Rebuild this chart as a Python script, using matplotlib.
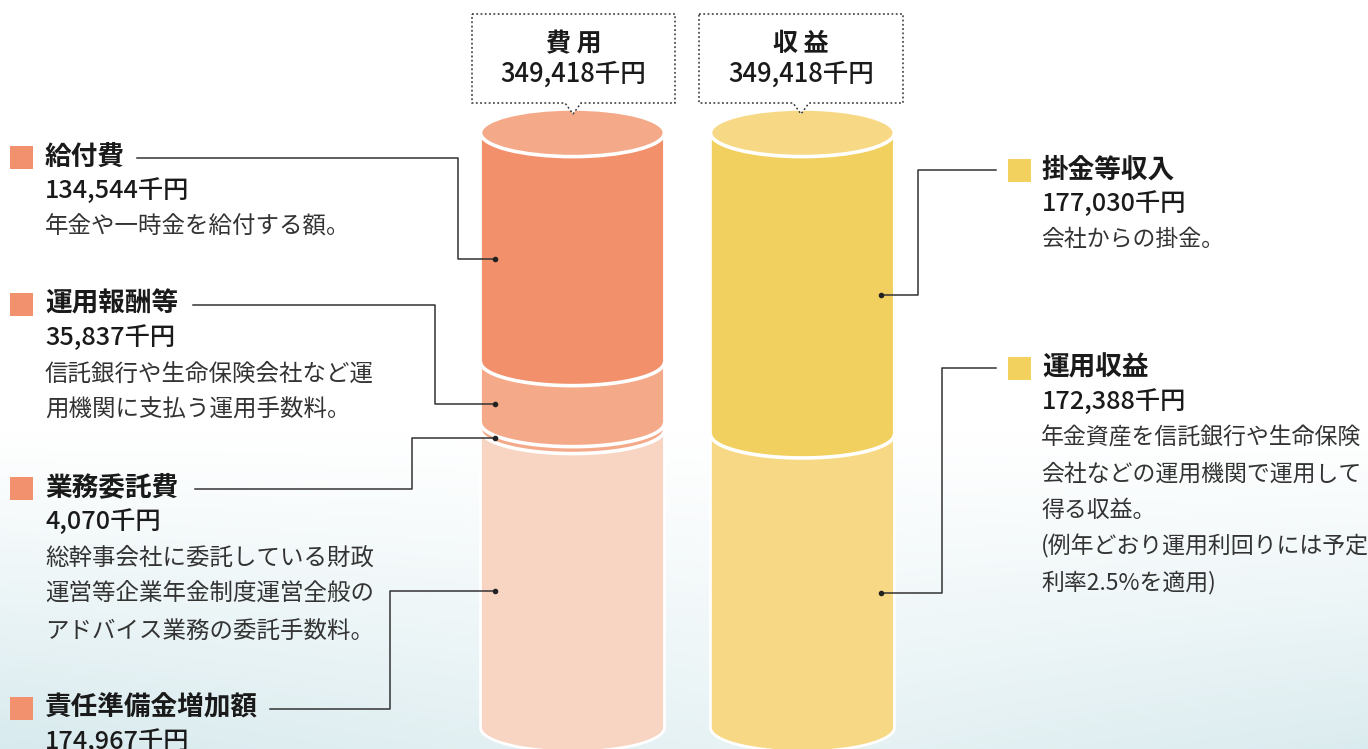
import numpy as np
import matplotlib
matplotlib.use('Agg')
import matplotlib.pyplot as plt
from matplotlib.patches import Polygon, Ellipse

plt.rcParams['font.family'] = ['Noto Sans CJK JP', 'DejaVu Sans']

# ---------------- data ----------------
cost_title = '費 用'
income_title = '収 益'
cost_total = 349418
income_total = 349418

cost_labels = ['給付費', '運用報酬等', '業務委託費', '責任準備金増加額']
cost_values = [134544, 35837, 4070, 174967]
cost_desc = [
    ['年金や一時金を給付する額。'],
    ['信託銀行や生命保険会社など運', '用機関に支払う運用手数料。'],
    ['総幹事会社に委託している財政', '運営等企業年金制度運営全般の', 'アドバイス業務の委託手数料。'],
    [],
]

income_labels = ['掛金等収入', '運用収益']
income_values = [177030, 172388]
income_desc = [
    ['会社からの掛金。'],
    ['年金資産を信託銀行や生命保険', '会社などの運用機関で運用して', '得る収益。',
     '(例年どおり運用利回りには予定', '利率2.5%を適用)'],
]

# ---------------- style ----------------
cost_colors = ['#F1906B', '#F4A988', '#F4A988', '#F8D4C2']
cost_top = '#F4A988'
income_colors = ['#F2D05F', '#F7D985']
income_top = '#F7D985'
cost_key = '#F2916D'
income_key = '#F3D15F'
TXT = '#1a1a1a'
DESC = '#333333'

W, H = 1368, 749
fig = plt.figure(figsize=(W / 100, H / 100), dpi=100)

# background gradient
ax_bg = fig.add_axes([0, 0, 1, 1], zorder=0)
ax_bg.axis('off')
yy = np.linspace(0, 1, H)[:, None]
xx = np.linspace(0, 1, W)[None, :]
t = np.clip((yy * H - 430) / 330, 0, 1) ** 1.1
side = 0.6 + 0.4 * np.abs(xx - 0.55) / 0.55
t = t * side
bottom = np.array([0.84, 0.915, 0.93])
img = 1 - (t[..., None]) * (1 - bottom)
ax_bg.imshow(img, extent=[0, 1, 0, 1], aspect='auto', origin='upper')
ax_bg.set_xlim(0, 1)
ax_bg.set_ylim(0, 1)

# cylinder axes (data units: thousand yen on y, category on x)
ax = fig.add_axes([0, 0, 1, 1], zorder=1)
ax.patch.set_visible(False)
ax.axis('off')
ax.set_xlim(-2.49, 3.46)
ax.set_ylim(362000, -78000)

# layout axes (pixels)
lay = fig.add_axes([0, 0, 1, 1], zorder=2)
lay.patch.set_visible(False)
lay.axis('off')
lay.set_xlim(0, W)
lay.set_ylim(H, 0)

BAR_W = 0.8
EH = 28000  # full ellipse height in value units


def arc(xc, y, start, end, n=80):
    th = np.linspace(start, end, n)
    return np.column_stack([xc + BAR_W / 2 * np.cos(th), y + EH / 2 * np.sin(th)])


def draw_cylinder(xc, values, colors, top_color):
    cum = np.concatenate([[0], np.cumsum(values)])
    for i in reversed(range(len(values))):
        top, bot = cum[i], cum[i + 1]
        pts = np.vstack([[[xc - BAR_W / 2, top]], arc(xc, bot, np.pi, 0), [[xc + BAR_W / 2, top]]])
        ax.add_patch(Polygon(pts, closed=True, fc=colors[i], ec='none', zorder=2 + (len(values) - i)))
        if i < len(values) - 1:
            a = arc(xc, bot, np.pi, 0)
            ax.plot(a[:, 0], a[:, 1], color='white', lw=2.6, zorder=2 + (len(values) - i) + 0.5,
                    solid_capstyle='butt')
    # silhouette outline
    a = arc(xc, cum[-1], np.pi, 0)
    out = np.vstack([[[xc - BAR_W / 2, 0]], a, [[xc + BAR_W / 2, 0]]])
    ax.plot(out[:, 0], out[:, 1], color='white', lw=2, zorder=20)
    ax.add_patch(Ellipse((xc, 0), BAR_W, EH, fc=top_color, ec='white', lw=2.6, zorder=21))
    return cum


cost_cum = draw_cylinder(0, cost_values, cost_colors, cost_top)
inc_cum = draw_cylinder(1, income_values, income_colors, income_top)


def to_layout(x, y):
    d = ax.transData.transform((x, y))
    return lay.transData.inverted().transform(d)


# ---------------- top callout boxes ----------------
def callout(x0, x1, xt, title, total):
    y0, y1, tip = 14, 103, 114
    pts = [(x0, y0), (x1, y0), (x1, y1), (xt + 8, y1), (xt, tip), (xt - 8, y1), (x0, y1)]
    lay.add_patch(Polygon(pts, closed=True, fc='white', ec='#333333', lw=1.1, ls=(0, (1.2, 1.6)), zorder=3))
    xc = (x0 + x1) / 2
    lay.text(xc, 44, title, ha='center', va='center', fontsize=18, fontweight='bold', color=TXT, zorder=4)
    lay.text(xc, 74, f'{total:,}千円', ha='center', va='center', fontsize=18.4, fontweight='medium',
             color=TXT, zorder=4)


callout(472, 675, 573, cost_title, cost_total)
callout(699, 903, 801, income_title, income_total)

TITLE_FS = 19.2
VALUE_FS = 18.2
DESC_FS = 16.9
DESC_FS_R = 16.5

# ---------------- left labels ----------------
left_title_y = [157, 304, 488, 708]
left_line_start = [137, 193, 195, 270]
left_elbow_x = [458, 435, 412, 390]
for i, lab in enumerate(cost_labels):
    ty = left_title_y[i]
    lay.add_patch(plt.Rectangle((10, ty - 11.5), 23, 23, fc=cost_key, ec='none', zorder=3))
    lay.text(45, ty, lab, ha='left', va='center', fontsize=TITLE_FS, fontweight='bold', color=TXT, zorder=4)
    lay.text(45, ty + 34, f'{cost_values[i]:,}千円', ha='left', va='center', fontsize=VALUE_FS,
             fontweight='medium', color=TXT, zorder=4)
    for j, line in enumerate(cost_desc[i]):
        lay.text(45, ty + 70 + j * 36.5, line, ha='left', va='center', fontsize=DESC_FS, color=DESC, zorder=4)
    mid = (cost_cum[i] + cost_cum[i + 1]) / 2 + EH / 4
    dx, dy = to_layout(-BAR_W / 2 + 0.065, mid)
    ex = left_elbow_x[i]
    lay.plot([left_line_start[i], ex, ex, dx], [ty + 1, ty + 1, dy, dy], color='#333333', lw=1.1, zorder=5)
    lay.plot([dx], [dy], 'o', color='#222222', ms=3, zorder=6)

# ---------------- right labels ----------------
right_title_y = [170, 368]
right_elbow_x = [918, 942]
for i, lab in enumerate(income_labels):
    ty = right_title_y[i]
    lay.add_patch(plt.Rectangle((1008, ty - 11.5), 23, 23, fc=income_key, ec='none', zorder=3))
    lay.text(1042, ty, lab, ha='left', va='center', fontsize=TITLE_FS, fontweight='bold', color=TXT, zorder=4)
    lay.text(1042, ty + 34, f'{income_values[i]:,}千円', ha='left', va='center', fontsize=VALUE_FS,
             fontweight='medium', color=TXT, zorder=4)
    for j, line in enumerate(income_desc[i]):
        lay.text(1041, ty + 70 + j * 36.2, line, ha='left', va='center', fontsize=DESC_FS_R, color=DESC, zorder=4)
    mid = (inc_cum[i] + inc_cum[i + 1]) / 2 + EH / 4
    dx, dy = to_layout(1 + BAR_W / 2 - 0.06, mid)
    ex = right_elbow_x[i]
    lay.plot([dx, ex, ex, 996], [dy, dy, ty, ty], color='#333333', lw=1.1, zorder=5)
    lay.plot([dx], [dy], 'o', color='#222222', ms=3, zorder=6)

fig.savefig('out.png', dpi=100)
